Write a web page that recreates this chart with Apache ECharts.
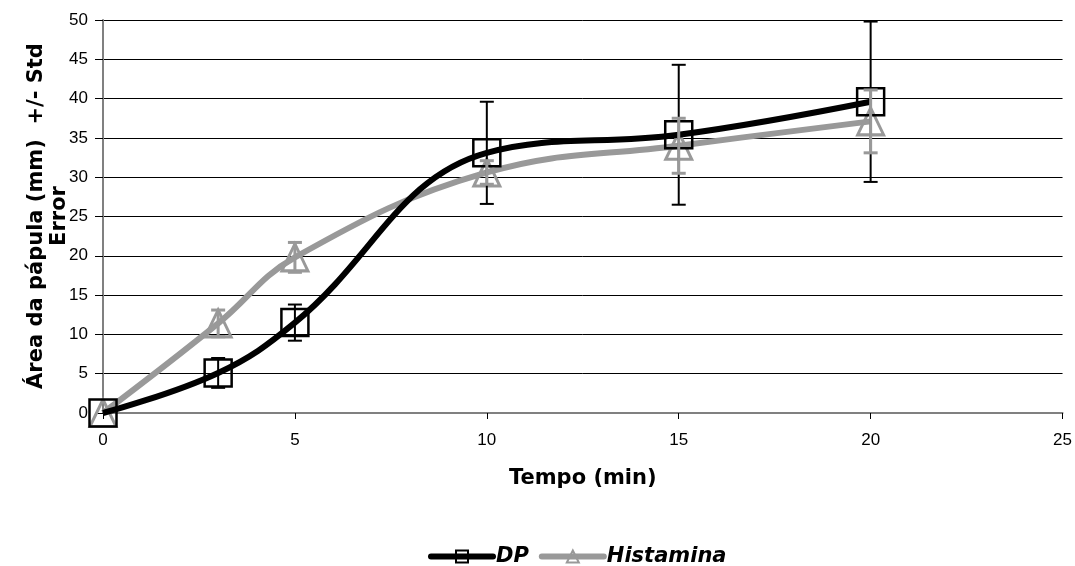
<!DOCTYPE html>
<html>
<head>
<meta charset="utf-8">
<script src="https://cdn.jsdelivr.net/npm/echarts@6/dist/echarts.min.js"></script>
<style>html,body{margin:0;padding:0;background:#fff}#c{width:1075px;height:566px}</style>
</head>
<body>
<div id="c"></div>
<script>
var times = [0, 3, 5, 10, 15, 20];
var dpMean = [0, 5.1, 11.5, 33.1, 35.4, 39.6];
var dpErr = [0, 1.9, 2.3, 6.5, 8.9, 10.2];
var hisMean = [0, 11.4, 19.8, 30.6, 34.0, 37.1];
var hisErr = [0, 1.7, 1.9, 1.5, 3.5, 4.0];
var xTicks = [0, 5, 10, 15, 20, 25];
var yTicks = [0, 5, 10, 15, 20, 25, 30, 35, 40, 45, 50];
var yTitle = 'Área da pápula (mm)  +/- Std\nError';
var xTitle = 'Tempo (min)';

function pairs(xs, ys) { return xs.map(function (x, i) { return [x, ys[i]]; }); }
function errData(xs, m, e) { return xs.map(function (x, i) { return [x, m[i] - e[i], m[i] + e[i]]; }); }

function errRender(color, w) {
  return function (params, api) {
    var x = api.value(0);
    var lo = api.coord([x, api.value(1)]);
    var hi = api.coord([x, api.value(2)]);
    var cw = 7;
    var st = { stroke: color, lineWidth: w, fill: null };
    return {
      type: 'group',
      children: [
        { type: 'line', shape: { x1: lo[0], y1: lo[1], x2: hi[0], y2: hi[1] }, style: st },
        { type: 'line', shape: { x1: lo[0] - cw, y1: lo[1], x2: lo[0] + cw, y2: lo[1] }, style: st },
        { type: 'line', shape: { x1: hi[0] - cw, y1: hi[1], x2: hi[0] + cw, y2: hi[1] }, style: st }
      ]
    };
  };
}

var chart = echarts.init(document.getElementById('c'));
var tickFont = 'Liberation Sans, Arial, sans-serif';
var titleFont = 'DejaVu Sans, Verdana, sans-serif';
chart.setOption({
  animation: false,
  backgroundColor: '#fff',
  grid: { left: 103, right: 12, top: 20, bottom: 153 },
  graphic: [{
    type: 'text',
    x: 48, y: 216,
    rotation: Math.PI / 2,
    style: {
      text: yTitle,
      font: 'bold 21px ' + titleFont,
      fill: '#000',
      textAlign: 'center',
      textVerticalAlign: 'middle',
      lineHeight: 23
    }
  }],
  legend: {
    top: 541,
    left: 423,
    itemWidth: 62,
    itemHeight: 15,
    itemGap: 10,
    data: ['DP', 'Histamina'],
    lineStyle: { width: 6, cap: 'round' },
    textStyle: { fontFamily: titleFont, fontSize: 21, fontWeight: 'bold', fontStyle: 'italic', color: '#000', padding: [0, 0, 0, -2] }
  },
  xAxis: {
    type: 'value', min: 0, max: 25, interval: 5,
    name: xTitle, nameLocation: 'middle', nameGap: 55,
    nameTextStyle: { fontFamily: titleFont, fontSize: 21, fontWeight: 'bold', color: '#000' },
    axisLine: { show: true, lineStyle: { color: '#808080', width: 2 } },
    axisTick: { show: true, length: 6, lineStyle: { color: '#000', width: 1 } },
    axisLabel: { fontFamily: tickFont, fontSize: 17, color: '#000', margin: 19 },
    splitLine: { show: false }
  },
  yAxis: {
    type: 'value', min: 0, max: 50, interval: 5,
    axisLine: { show: true, lineStyle: { color: '#808080', width: 2 } },
    axisTick: { show: true, length: 8, lineStyle: { color: '#000', width: 1 } },
    axisLabel: { fontFamily: tickFont, fontSize: 17, color: '#000', margin: 15 },
    splitLine: { show: true, lineStyle: { color: '#000', width: 1 } }
  },
  series: [
    {
      name: 'Histamina', type: 'line', smooth: 0.4, z: 3,
      data: pairs(times, hisMean),
      symbol: 'triangle', symbolSize: [26, 27],
      lineStyle: { color: '#999999', width: 6 },
      itemStyle: { color: 'rgba(255,255,255,0)', borderColor: '#999999', borderWidth: 3 }
    },
    {
      name: 'DP', type: 'line', smooth: 0.4, z: 4,
      data: pairs(times, dpMean),
      symbol: 'rect', symbolSize: 27,
      lineStyle: { color: '#000', width: 6 },
      itemStyle: { color: 'rgba(255,255,255,0)', borderColor: '#000', borderWidth: 2.5 }
    },
    {
      name: 'DPerr', type: 'custom', z: 5,
      renderItem: errRender('#000', 2),
      data: errData(times.slice(1), dpMean.slice(1), dpErr.slice(1)),
      encode: { x: 0, y: [1, 2] }
    },
    {
      name: 'HisErr', type: 'custom', z: 6,
      renderItem: errRender('#999999', 3),
      data: errData(times.slice(1), hisMean.slice(1), hisErr.slice(1)),
      encode: { x: 0, y: [1, 2] }
    }
  ]
});
</script>
</body>
</html>
